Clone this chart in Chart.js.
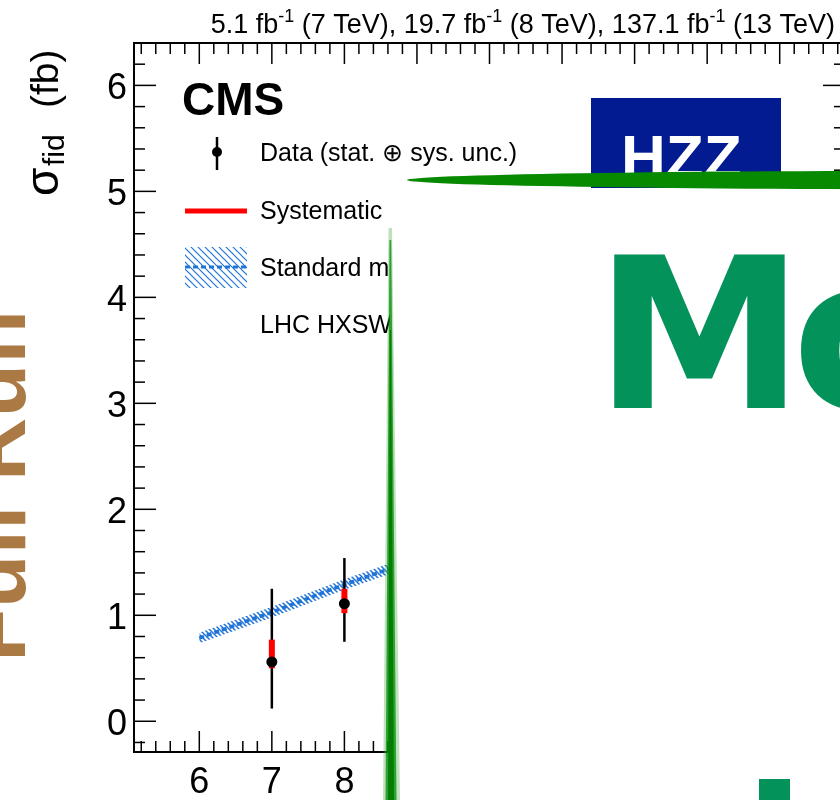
<!DOCTYPE html>
<html>
<head>
<meta charset="utf-8">
<script src="https://cdn.jsdelivr.net/npm/chart.js@4"></script>
<style>
html, body { margin: 0; padding: 0; background: #fff; }
#wrap { position: relative; width: 840px; height: 800px; overflow: hidden; }
#chart { position: absolute; left: 0; top: 0; }
</style>
</head>
<body>
<div id="wrap"><canvas id="chart" width="860" height="800"></canvas></div>
<script>
// measured points (sqrt(s) in TeV, fiducial cross section in fb)
const energies = [7, 8];
const sigmaFid = [0.56, 1.11];
const totLow = [0.12, 0.75];
const totHigh = [1.25, 1.54];
const sysLow = [0.50, 1.02];
const sysHigh = [0.77, 1.25];

// SM prediction band
const smEnergies = [6, 7, 8, 9];
const smCentral = [0.785, 1.03, 1.29, 1.53];
const smLow = [0.735, 0.98, 1.24, 1.48];
const smHigh = [0.835, 1.08, 1.34, 1.58];

const xTickLabels = [6, 7, 8, 9, 10, 11, 12, 13, 14];
const yTickLabels = [0, 1, 2, 3, 4, 5, 6];

const titleParts = [
    ['5.1 fb', false], ['-1', true], [' (7 TeV), 19.7 fb', false], ['-1', true],
    [' (8 TeV), 137.1 fb', false], ['-1', true], [' (13 TeV)', false]
];
const legendLabels = ['Data (stat. \u2295 sys. unc.)', 'Systematic uncertainty', 'Standard model', 'LHC HXSWG YR4'];

const FONT = '"Liberation Sans", Arial, Helvetica, sans-serif';
const BLUE = '#1f74d6';

//pattern for the hatched band
function makeHatch(size, width) {
    let c = document.createElement('canvas');
    c.width = size; c.height = size;
    let g = c.getContext('2d');
    g.strokeStyle = BLUE;
    g.lineWidth = width;
    g.beginPath();
    g.moveTo(-1, -1); g.lineTo(size + 1, size + 1);
    g.moveTo(-1, size - 1); g.lineTo(1, size + 1);
    g.moveTo(size - 1, -1); g.lineTo(size + 1, 1);
    g.stroke();
    return g.createPattern(c, 'repeat');
}
const hatch = makeHatch(5, 1.5);
const hatchLegend = makeHatch(7, 1.2);

function pts(xs, ys) {
    return xs.map((x, i) => ({ x: x, y: ys[i] }));
}

function line(ctx, x1, y1, x2, y2) {
    ctx.beginPath();
    ctx.moveTo(x1, y1);
    ctx.lineTo(x2, y2);
    ctx.stroke();
}

function poly(ctx, color, p) {
    ctx.fillStyle = color;
    ctx.beginPath();
    ctx.moveTo(p[0], p[1]);
    for (let i = 2; i < p.length; i += 2) ctx.lineTo(p[i], p[i + 1]);
    ctx.closePath();
    ctx.fill();
}

//error bars under the data markers
const errorBars = {
    id: 'errorBars',
    beforeDatasetDraw(chart, args) {
        if (args.index !== 3) return;
        const ctx = chart.ctx;
        const xs = chart.scales.x, ys = chart.scales.y;
        ctx.save();
        energies.forEach((e, i) => {
            const px = xs.getPixelForValue(e);
            ctx.strokeStyle = '#000';
            ctx.lineWidth = 2.5;
            line(ctx, px, ys.getPixelForValue(totLow[i]), px, ys.getPixelForValue(totHigh[i]));
            ctx.strokeStyle = '#ff0000';
            ctx.lineWidth = 6;
            line(ctx, px, ys.getPixelForValue(sysLow[i]), px, ys.getPixelForValue(sysHigh[i]));
        });
        ctx.restore();
    }
};

//frame, ticks, labels, legend and the poster pieces on top
const decor = {
    id: 'decor',
    afterDraw(chart) {
        const ctx = chart.ctx;
        const { left, right, top, bottom } = chart.chartArea;
        const xs = chart.scales.x, ys = chart.scales.y;
        ctx.save();

        ctx.strokeStyle = '#000';
        ctx.lineWidth = 2;
        ctx.strokeRect(left, top, right - left, bottom - top);

        ctx.lineWidth = 1.5;
        for (let i = 26; i <= 74; i++) {
            const px = xs.getPixelForValue(i / 5);
            const len = i % 5 === 0 ? 21 : 11;
            line(ctx, px, bottom, px, bottom - len);
            line(ctx, px, top, px, top + len);
        }
        for (let i = -1; i <= 32; i++) {
            const py = ys.getPixelForValue(i / 5);
            const len = i % 5 === 0 ? 22 : 11;
            line(ctx, left, py, left + len, py);
            line(ctx, right, py, right - len, py);
        }

        ctx.fillStyle = '#000';
        ctx.font = '36px ' + FONT;
        ctx.textBaseline = 'alphabetic';
        ctx.textAlign = 'right';
        yTickLabels.forEach(v => ctx.fillText(String(v), left - 7, ys.getPixelForValue(v) + 13.5));
        ctx.textAlign = 'center';
        xTickLabels.forEach(v => ctx.fillText(String(v), xs.getPixelForValue(v), bottom + 41));

        // y title
        ctx.save();
        ctx.translate(58, 196);
        ctx.rotate(-Math.PI / 2);
        ctx.textAlign = 'left';
        ctx.font = '46px ' + FONT;
        ctx.fillText('\u03c3', 0, 0);
        ctx.font = '30px ' + FONT;
        ctx.fillText('fid', 30, 6);
        ctx.font = '39px ' + FONT;
        ctx.fillText('(fb)', 88, 0);
        ctx.restore();

        // title
        ctx.textAlign = 'left';
        let total = 0;
        titleParts.forEach(p => {
            ctx.font = (p[1] ? '18px ' : '27px ') + FONT;
            total += ctx.measureText(p[0]).width;
        });
        let tx = 835 - total;
        titleParts.forEach(p => {
            ctx.font = (p[1] ? '18px ' : '27px ') + FONT;
            ctx.fillText(p[0], tx, p[1] ? 22 : 33);
            tx += ctx.measureText(p[0]).width;
        });

        // legend
        ctx.font = 'bold 46px ' + FONT;
        ctx.fillText('CMS', 182, 115);
        ctx.font = '25px ' + FONT;
        const rows = [152, 210, 267, 324];
        legendLabels.forEach((t, i) => ctx.fillText(t, 260, rows[i] + 9));
        ctx.strokeStyle = '#000';
        ctx.lineWidth = 2.5;
        line(ctx, 217, 137, 217, 170);
        ctx.beginPath();
        ctx.arc(217, 152, 5, 0, Math.PI * 2);
        ctx.fill();
        ctx.strokeStyle = '#ff0000';
        ctx.lineWidth = 5;
        line(ctx, 185, 211, 247, 211);
        ctx.fillStyle = hatchLegend;
        ctx.fillRect(185, 247, 62, 41);
        ctx.strokeStyle = BLUE;
        ctx.lineWidth = 3;
        ctx.setLineDash([5, 3]);
        line(ctx, 185, 267, 247, 267);
        ctx.setLineDash([]);

        // poster overlay: white sheet
        ctx.fillStyle = '#fff';
        ctx.fillRect(390, 183, 480, 620);

        // grass blade
        poly(ctx, 'rgba(70,170,70,0.35)', [388.5, 228, 392, 228, 400, 800, 383, 800]);
        poly(ctx, 'rgba(0,140,0,0.75)', [389.5, 240, 391.2, 240, 396.5, 800, 385.5, 800]);
        poly(ctx, 'rgba(0,125,0,0.95)', [389.8, 330, 391, 330, 394, 800, 388, 800]);

        // blue HZZ box
        ctx.fillStyle = '#021b91';
        ctx.fillRect(591, 98, 190, 90);
        ctx.fillStyle = '#fff';
        ctx.font = 'bold 62px ' + FONT;
        ctx.fillText('HZZ', 621, 178);

        // green leaf
        ctx.fillStyle = '#078a00';
        ctx.beginPath();
        ctx.ellipse(1000, 180, 593, 9.5, 0, 0, Math.PI * 2);
        ctx.fill();

        // big green lettering
        ctx.fillStyle = '#03925a';
        ctx.font = 'bold 210px "DejaVu Sans", sans-serif';
        const m = ctx.measureText('M');
        ctx.fillText('M', 614 + m.actualBoundingBoxLeft, 408);
        const o = ctx.measureText('o');
        ctx.fillText('o', 801 + o.actualBoundingBoxLeft, 408);
        ctx.fillRect(759, 779, 31, 30);

        // brown side text
        ctx.save();
        ctx.translate(25, 657);
        ctx.rotate(-Math.PI / 2);
        ctx.fillStyle = '#ab7943';
        ctx.font = 'bold 88px ' + FONT;
        const f = ctx.measureText('Full Run');
        ctx.fillText('Full Run', f.actualBoundingBoxLeft, 0);
        ctx.restore();

        ctx.restore();
    }
};

new Chart(document.getElementById('chart'), {
    type: 'line',
    data: {
        datasets: [
            {
                data: pts(smEnergies, smHigh),
                borderWidth: 0,
                pointRadius: 0,
                backgroundColor: hatch,
                fill: '+1',
                order: 3
            },
            {
                data: pts(smEnergies, smLow),
                borderWidth: 0,
                pointRadius: 0,
                fill: false,
                order: 4
            },
            {
                data: pts(smEnergies, smCentral),
                borderColor: BLUE,
                borderWidth: 3.5,
                borderDash: [5, 3],
                pointRadius: 0,
                fill: false,
                order: 2
            },
            {
                type: 'scatter',
                data: pts(energies, sigmaFid),
                pointRadius: 5.5,
                pointBackgroundColor: '#000',
                pointBorderWidth: 0,
                showLine: false,
                order: 1
            }
        ]
    },
    options: {
        responsive: false,
        animation: false,
        layout: { padding: { left: 134, top: 43, right: 15, bottom: 48 } },
        plugins: {
            legend: { display: false },
            tooltip: { enabled: false }
        },
        scales: {
            x: { type: 'linear', min: 5.1, max: 14.9, display: false },
            y: { type: 'linear', min: -0.29, max: 6.4, display: false }
        },
        events: []
    },
    plugins: [errorBars, decor]
});
</script>
</body>
</html>
